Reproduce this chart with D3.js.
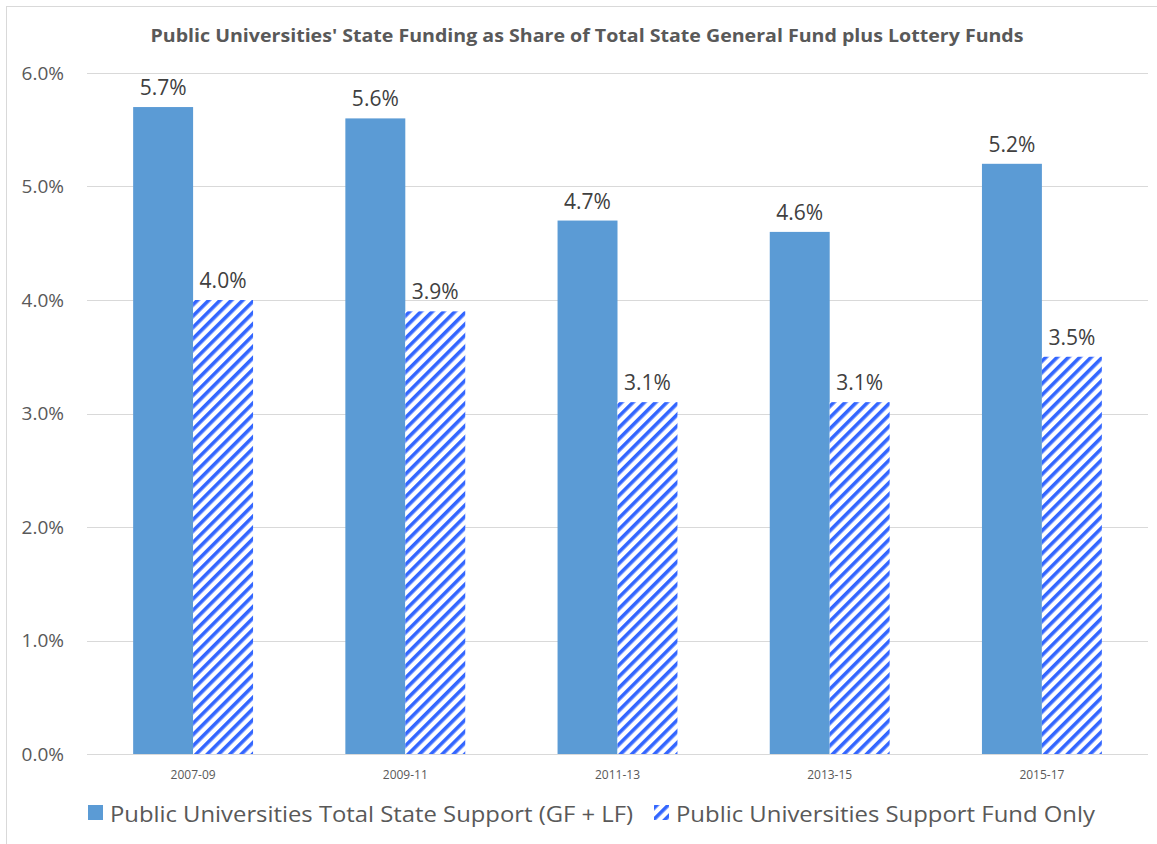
<!DOCTYPE html>
<html>
<head>
<meta charset="utf-8">
<script src="https://cdn.jsdelivr.net/npm/d3@7"></script>
<style>
  body { margin: 0; background: #fff; }
  text { font-family: "Open Sans", "Noto Sans", sans-serif; fill: #595959; }
</style>
</head>
<body>
<svg id="chart"></svg>
<script>
const periods = ["2007-09", "2009-11", "2011-13", "2013-15", "2015-17"];
const totalSupport = [5.7, 5.6, 4.7, 4.6, 5.2];
const supportFundOnly = [4.0, 3.9, 3.1, 3.1, 3.5];
const seriesNames = ["Public Universities Total State Support (GF + LF)", "Public Universities Support Fund Only"];
const yTicks = [0, 1, 2, 3, 4, 5, 6];

const width = 1157, height = 844;
const margin = {top: 73, right: 9, bottom: 90, left: 87};

let svg = d3.select("#chart")
    .attr("width", width)
    .attr("height", height);

// hatch pattern for second series
let defs = svg.append("defs");
let pat = defs.append("pattern")
    .attr("id", "hatch")
    .attr("patternUnits", "userSpaceOnUse")
    .attr("width", 8)
    .attr("height", 8)
    .attr("patternTransform", "rotate(45)");
pat.append("rect").attr("width", 8).attr("height", 8).attr("fill", "#fff");
pat.append("rect").attr("x", 0).attr("width", 3.6).attr("height", 8).attr("fill", "#3366ff");

// outer border
svg.append("rect")
    .attr("x", 6.5).attr("y", 6.5)
    .attr("width", width - 6).attr("height", height - 6)
    .attr("fill", "none")
    .attr("stroke", "#d9d9d9");

let x = d3.scaleBand()
    .domain(periods)
    .range([margin.left, width - margin.right])
    .paddingInner(0.435)
    .paddingOuter(0.2175);

let y = d3.scaleLinear()
    .domain([0, 6])
    .range([height - margin.bottom, margin.top]);

// grid
svg.append("g")
    .selectAll("line")
    .data(yTicks)
    .enter()
    .append("line")
    .attr("x1", margin.left)
    .attr("x2", width - margin.right)
    .attr("y1", d => Math.round(y(d)) + 0.5)
    .attr("y2", d => Math.round(y(d)) + 0.5)
    .attr("stroke", "#d9d9d9")
    .attr("stroke-width", 1);

// y labels
svg.append("g")
    .selectAll("text")
    .data(yTicks)
    .enter()
    .append("text")
    .attr("x", 64)
    .attr("y", d => y(d))
    .attr("dy", "0.35em")
    .attr("text-anchor", "end")
    .style("font-size", "19px")
    .text(d => d.toFixed(1) + "%");

let bw = x.bandwidth() / 2;

let groups = svg.append("g")
    .selectAll("g")
    .data(periods)
    .enter()
    .append("g")
    .attr("transform", d => `translate(${x(d)},0)`);

groups.append("rect")
    .attr("x", 0)
    .attr("width", bw)
    .attr("y", (d, i) => y(totalSupport[i]))
    .attr("height", (d, i) => y(0) - y(totalSupport[i]))
    .attr("fill", "#5b9bd5");

groups.append("rect")
    .attr("x", bw)
    .attr("width", bw)
    .attr("y", (d, i) => y(supportFundOnly[i]))
    .attr("height", (d, i) => y(0) - y(supportFundOnly[i]))
    .attr("fill", "url(#hatch)");

groups.append("text")
    .attr("x", bw / 2)
    .attr("y", (d, i) => y(totalSupport[i]) - 12)
    .attr("text-anchor", "middle")
    .style("font-size", "21px")
    .style("fill", "#404040")
    .text((d, i) => totalSupport[i].toFixed(1) + "%");

groups.append("text")
    .attr("x", bw * 1.5)
    .attr("y", (d, i) => y(supportFundOnly[i]) - 12)
    .attr("text-anchor", "middle")
    .style("font-size", "21px")
    .style("fill", "#404040")
    .text((d, i) => supportFundOnly[i].toFixed(1) + "%");

// x labels
svg.append("g")
    .selectAll("text")
    .data(periods)
    .enter()
    .append("text")
    .attr("x", d => x(d) + x.bandwidth() / 2)
    .attr("y", y(0) + 25)
    .attr("text-anchor", "middle")
    .style("font-size", "12px")
    .text(d => d);

// title
svg.append("text")
    .attr("x", 587)
    .attr("y", 42)
    .attr("text-anchor", "middle")
    .style("font-size", "17.5px")
    .style("font-weight", "bold")
    .attr("textLength", 873)
    .attr("lengthAdjust", "spacingAndGlyphs")
    .text("Public Universities' State Funding as Share of Total State General Fund plus Lottery Funds");

// legend
let legend = svg.append("g");
legend.append("rect")
    .attr("x", 88).attr("y", 805)
    .attr("width", 15).attr("height", 15)
    .attr("fill", "#5b9bd5");
legend.append("text")
    .attr("x", 110).attr("y", 822)
    .style("font-size", "22px")
    .attr("textLength", 523)
    .attr("lengthAdjust", "spacingAndGlyphs")
    .text(seriesNames[0]);
legend.append("rect")
    .attr("x", 654).attr("y", 805)
    .attr("width", 15).attr("height", 15)
    .attr("fill", "url(#hatch)");
legend.append("text")
    .attr("x", 676).attr("y", 822)
    .style("font-size", "22px")
    .attr("textLength", 419)
    .attr("lengthAdjust", "spacingAndGlyphs")
    .text(seriesNames[1]);
</script>
</body>
</html>
